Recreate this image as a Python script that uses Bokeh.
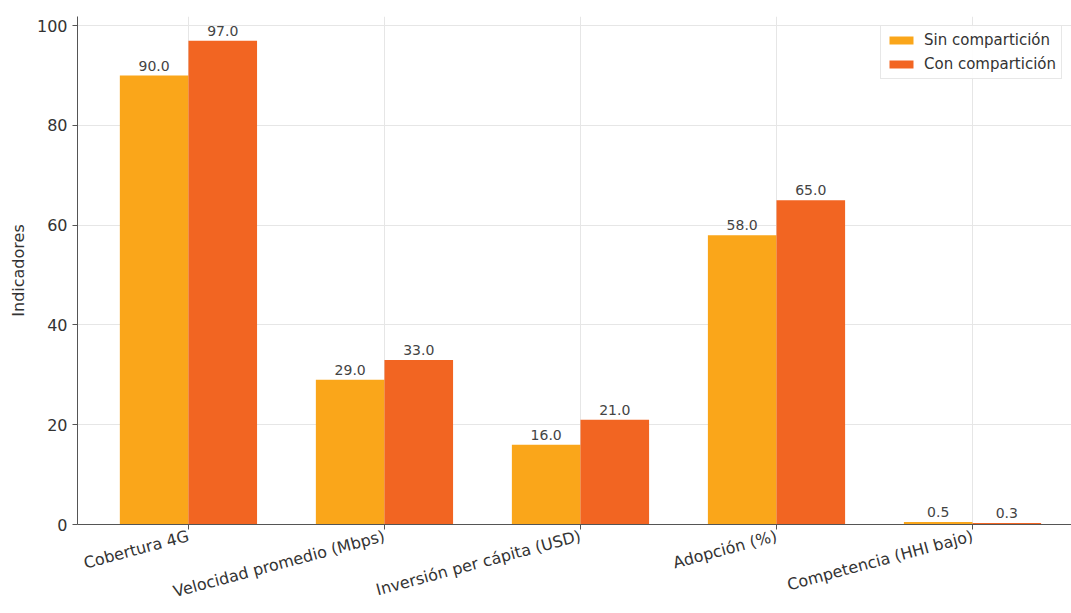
import math
import numpy as np
from bokeh.plotting import figure
from bokeh.models import ColumnDataSource, FixedTicker, Range1d, Legend
from bokeh.core.properties import value
from bokeh.embed import file_html
from bokeh.resources import INLINE

categories = ["Cobertura 4G", "Velocidad promedio (Mbps)", "Inversión per cápita (USD)",
              "Adopción (%)", "Competencia (HHI bajo)"]
sin_comparticion = [90.0, 29.0, 16.0, 58.0, 0.5]
con_comparticion = [97.0, 33.0, 21.0, 65.0, 0.3]
series_names = ["Sin compartición", "Con compartición"]
y_ticks = [0, 20, 40, 60, 80, 100]

COL_A = "#FAA61A"
COL_B = "#F26522"
FONT = "DejaVu Sans"
BAR_W = 0.35

idx = np.arange(len(categories))
src_a = ColumnDataSource(dict(x=idx - BAR_W / 2, top=sin_comparticion,
                              lab=[f"{v:.1f}" for v in sin_comparticion]))
src_b = ColumnDataSource(dict(x=idx + BAR_W / 2, top=con_comparticion,
                              lab=[f"{v:.1f}" for v in con_comparticion]))

p = figure(width=1071, height=613, output_backend="svg", toolbar_location=None,
           x_range=Range1d(-0.566, 4.505), y_range=Range1d(0, max(con_comparticion) * 1.05),
           min_border_left=77, min_border_right=0, min_border_top=16, min_border_bottom=86)
p.outline_line_color = None
p.background_fill_color = "white"

ra = p.vbar(x="x", top="top", width=BAR_W, bottom=0, source=src_a, fill_color=COL_A,
            line_color=None)
rb = p.vbar(x="x", top="top", width=BAR_W, bottom=0, source=src_b, fill_color=COL_B,
            line_color=None)

for src in (src_a, src_b):
    p.text(x="x", y="top", text="lab", source=src, text_align="center",
           text_baseline="bottom", y_offset=-5, text_font=value(FONT),
           text_font_size="14px", text_color="#444444")

# grid
p.xgrid.ticker = FixedTicker(ticks=list(idx))
p.ygrid.ticker = FixedTicker(ticks=y_ticks)
for g in (p.xgrid, p.ygrid):
    g.grid_line_color = "#e6e6e6"
    g.grid_line_width = 1

# axes
xa = p.xaxis[0]
xa.ticker = FixedTicker(ticks=list(idx))
xa.major_label_overrides = {int(i): c for i, c in zip(idx, categories)}
xa.major_label_orientation = math.radians(15)
ya = p.yaxis[0]
ya.ticker = FixedTicker(ticks=y_ticks)
ya.axis_label = "Indicadores"
for ax in (xa, ya):
    ax.axis_line_color = "#555555"
    ax.major_tick_line_color = "#555555"
    ax.major_tick_in = 0
    ax.major_tick_out = 5
    ax.minor_tick_line_color = None
    ax.major_label_text_font = FONT
    ax.major_label_text_font_size = "16px"
    ax.major_label_text_color = "#333333"
    ax.major_label_standoff = 5
xa.major_label_standoff = 6
ya.axis_label_text_font = FONT
ya.axis_label_text_font_size = "16px"
ya.axis_label_text_font_style = "normal"
ya.axis_label_text_color = "#333333"
ya.axis_label_standoff = 6

legend = Legend(items=[(series_names[0], [ra]), (series_names[1], [rb])],
                location="top_right")
legend.margin = 9
legend.padding = 5
legend.spacing = 6
legend.glyph_width = 30
legend.glyph_height = 10
legend.label_standoff = 8
legend.label_text_font = FONT
legend.label_text_font_size = "15px"
legend.label_text_color = "#333333"
legend.border_line_color = "#d0d0d0"
legend.background_fill_alpha = 0.9
p.add_layout(legend)

open("out.html", "w").write(file_html(p, INLINE))
